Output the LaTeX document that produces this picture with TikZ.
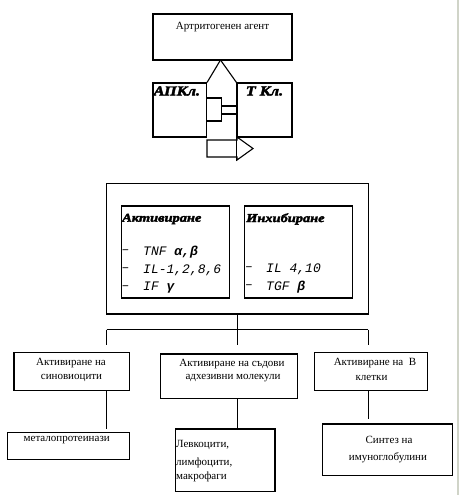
\documentclass[tikz,border=0pt]{standalone}
\usepackage{fontspec}
\setmainfont{Liberation Serif}
\setmonofont{Liberation Mono}
\newfontfamily\heavyfont{Liberation Serif Bold Italic}[FakeBold=3,FakeStretch=1.2]
\begin{document}
\begin{tikzpicture}[x=1pt,y=-1pt,
  box/.style={draw,line width=1.1pt,inner sep=0pt,rectangle},
  lbl/.style={inner sep=0pt,font=\fontsize{11}{12}\selectfont},
  hv/.style={inner sep=0pt,font=\heavyfont\fontsize{13.5}{14}\selectfont},
  lst/.style={inner sep=0pt,anchor=west,font=\ttfamily\itshape\fontsize{13}{14}\selectfont},
  ln/.style={line width=1.1pt}]
\useasboundingbox (0,0) rectangle (459,495);
\fill[fill={rgb,255:red,208;green,212;blue,200}] (456.5,0) rectangle (459,495);
% top part
\node[box,minimum width=139pt,minimum height=46pt] (agent) at (222.5,37) {};
\node[lbl] (agentT) at (222.5,27) {Артритогенен агент};
\node[box,minimum width=53.5pt,minimum height=54pt] (apc) at (179.75,110) {};
\node[box,minimum width=55pt,minimum height=54pt] (tcl) at (264.5,110) {};
\node[hv,anchor=west] (apcT) at (153.5,91) {АПКл.};
\node[hv] (tclT) at (264.5,91) {Т Кл.};
\coordinate (apex) at (220.5,60);
\draw[ln] (apex) -- (apc.north east);
\draw[ln] (apex) -- (tcl.north west);
\draw[ln] (tcl.south west) -- ++(0,23);
\node[box,minimum width=15.2pt,minimum height=23pt] (plugA) at (214.1,109.5) {};
\node[box,minimum width=15.3pt,minimum height=8pt] (plugB) at (229.35,110) {};
\draw[ln] (207,140) -- (237,140) -- (237,137) -- (253,148.5) -- (237,160) -- (237,157) -- (207,157) -- cycle;
% middle block
\node[box,minimum width=261.6pt,minimum height=130.7pt] (big) at (237.5,248.65) {};
\node[box,minimum width=108pt,minimum height=92pt] (act) at (175.5,252) {};
\node[box,minimum width=107.8pt,minimum height=92pt] (inh) at (298.4,252) {};
\node[hv,anchor=west,font=\heavyfont\fontsize{12}{12}\selectfont] (actT) at (122,219) {Активиране};
\node[hv,anchor=west,font=\heavyfont\fontsize{12}{12}\selectfont] (inhT) at (246,219) {Инхибиране};
\node[lst] (d1) at (121.5,252) {–};
\node[lst] (t1) at (143,252) {TNF  \bfseries α,β};
\node[lst] (d2) at (121.5,270) {–};
\node[lst] (t2) at (143,270) {IL-1,2,8,6};
\node[lst] (d3) at (121.5,288) {–};
\node[lst] (t3) at (143,288) {IF \bfseries γ};
\node[lst] (d4) at (245,269) {–};
\node[lst] (t4) at (266,269) {IL 4,10};
\node[lst] (d5) at (245,287) {–};
\node[lst] (t5) at (266,287) {TGF  \bfseries β};
% branching
\coordinate (bl) at (106.7,329.5);
\coordinate (bm) at (237.3,329.5);
\coordinate (br) at (368.3,329.5);
\draw[ln] (big.south -| bm) -- (bm);
\draw[ln] (bl) -- (br);
\coordinate (el) at (106.7,345);
\coordinate (em) at (237.3,345);
\coordinate (er) at (368.3,345);
\draw[ln] (bl) -- (el);
\draw[ln] (bm) -- (em);
\draw[ln] (br) -- (er);
% bottom row
\node[box,minimum width=115.3pt,minimum height=38pt] (b1) at (71.65,371.7) {};
\node[box,minimum width=137.4pt,minimum height=44.3pt] (b2) at (229,376.15) {};
\node[box,minimum width=113.4pt,minimum height=38pt] (b3) at (371,371.7) {};
\node[lbl] (b1a) at (71,363.5) {Активиране на};
\node[lbl] (b1b) at (71.5,377.5) {синовиоцити};
\node[lbl] (b2a) at (232,364) {Активиране на съдови};
\node[lbl] (b2b) at (233,378.5) {адхезивни молекули};
\node[lbl] (b3a) at (375,363.5) {Активиране на \ В};
\node[lbl] (b3b) at (371.5,377.5) {клетки};
\coordinate (fl) at (106.7,429);
\coordinate (fm) at (237.3,430);
\coordinate (fr) at (368.3,418.7);
\draw[ln] (b1.south -| fl) -- (fl);
\draw[ln] (b2.south -| fm) -- (fm);
\draw[ln] (b3.south -| fr) -- (fr);
\node[box,minimum width=122pt,minimum height=26.6pt] (c1) at (68.3,446) {};
\node[box,minimum width=99.3pt,minimum height=62.3pt] (c2) at (225.35,460.15) {};
\node[box,minimum width=129.6pt,minimum height=51.7pt] (c3) at (387.5,449.85) {};
\node[lbl] (c1a) at (66.7,440.5) {металопротеинази};
\node[lbl,anchor=west] (c2a) at (176,445) {Левкоцити,};
\node[lbl,anchor=west] (c2b) at (176,463) {лимфоцити,};
\node[lbl,anchor=west] (c2c) at (176,477) {макрофаги};
\node[lbl] (c3a) at (389,440) {Синтез на};
\node[lbl] (c3b) at (388,458) {имуноглобулини};
\end{tikzpicture}
\end{document}
